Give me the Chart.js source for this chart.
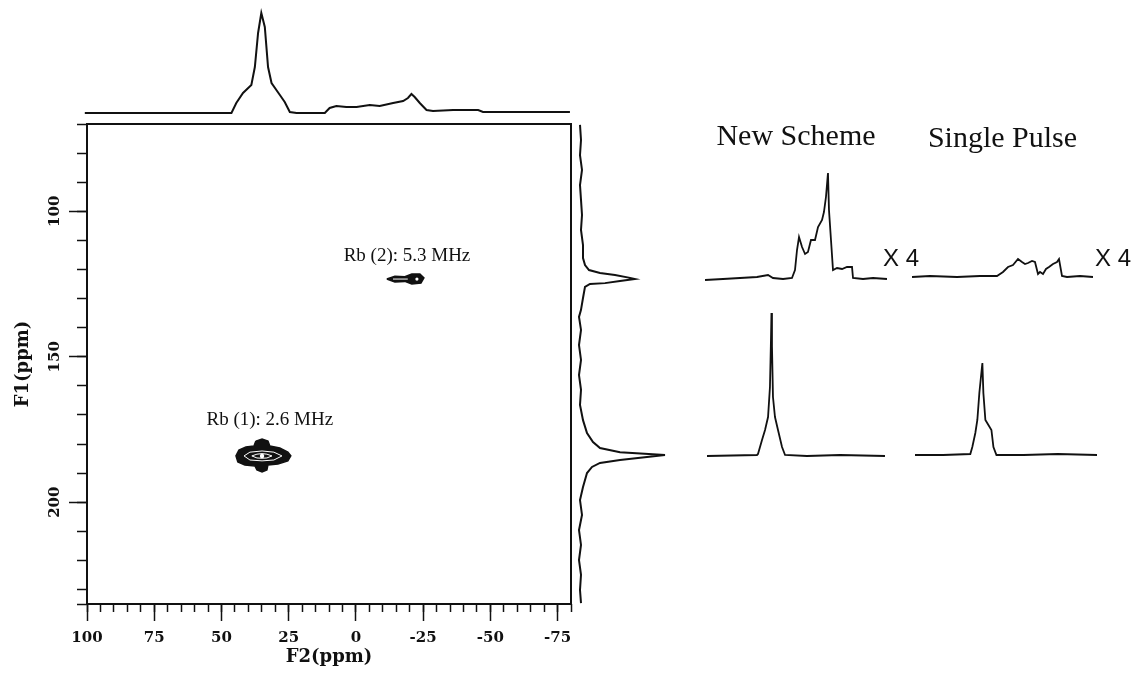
<!DOCTYPE html>
<html>
<head>
<meta charset="utf-8">
<script src="https://cdn.jsdelivr.net/npm/chart.js@4.4.1/dist/chart.umd.min.js"></script>
<style>
  html, body { margin: 0; padding: 0; background: #fff; }
  body { width: 1136px; height: 675px; position: relative; overflow: hidden; }
  canvas { position: absolute; }
</style>
</head>
<body>
<canvas id="mainPlot"  width="600" height="675" style="left:0;top:0"></canvas>
<canvas id="projTop"   width="487" height="120" style="left:84px;top:0"></canvas>
<canvas id="projRight" width="100" height="480" style="left:575px;top:124px"></canvas>
<canvas id="nsUpper"   width="227" height="166" style="left:705px;top:119px"></canvas>
<canvas id="spUpper"   width="224" height="162" style="left:912px;top:121px"></canvas>
<canvas id="nsLower"   width="182" height="156" style="left:705px;top:306px"></canvas>
<canvas id="spLower"   width="182" height="156" style="left:915px;top:305px"></canvas>
<script>
// --- data (ppm / arbitrary intensity) ---

// F2 projection on top
const topPpm = [100.7, 46.2, 44.4, 41.9, 38.8, 37.5, 36.3, 35.1, 33.8, 32.6, 31.3, 28.2, 26.4, 24.5, 22.0,
  11.5, 9.7, 7.2, 3.5, -0.3, -5.2, -8.9, -13.9, -17.6, -19.4, -20.7, -21.9, -23.8, -26.3, -28.7, -36.2, -45.5, -47.3, -79.6];
const topInt = [0, 0, 10, 20, 28, 46, 80, 100, 86, 46, 30, 18, 11, 1, 0,
  0, 5, 7, 6, 6, 8, 7, 10, 12, 15, 19, 16, 10, 3, 2, 3, 3, 1, 1];

// F1 projection on the right
const rightPpm = [70.3, 75.5, 80.7, 85.8, 91.0, 96.1, 101.3, 106.4, 111.6, 116.1,
  118.5, 120.2, 121.2, 121.9, 122.9, 123.3, 124.0, 124.7, 125.0, 126.0,
  129.8, 133.9, 136.3, 140.8, 146.0, 151.1, 156.3, 161.4, 166.6, 171.8,
  176.2, 179.3, 181.4, 182.8, 183.8, 185.5, 186.5, 187.9, 190.0, 194.8,
  199.3, 204.4, 209.6, 214.7, 219.9, 225.0, 230.2, 234.7];
const rightInt = [1, 2, 1, 3, 1, 2, 3, 2, 4, 4,
  6, 10, 21, 36, 51, 56, 41, 26, 11, 6,
  4, 2, 0, 2, 0, 2, 0, 2, 1, 4,
  8, 14, 21, 41, 86, 41, 21, 13, 8, 4,
  1, 3, 0, 2, 0, 2, 1, 2];

// contours (F2, F1)
const rb1OuterF2 = [37.2, 34.9, 32.7, 32.0, 28.3, 25.3, 24.2, 25.3, 29.0, 32.7, 33.1, 34.9, 36.8, 37.5, 41.3, 43.9, 44.6, 43.5, 40.9, 37.9, 37.2];
const rb1OuterF1 = [179.0, 178.3, 179.0, 180.7, 181.4, 182.8, 184.1, 185.8, 186.9, 187.2, 188.9, 189.6, 188.9, 187.6, 187.2, 186.2, 184.1, 182.1, 181.0, 180.7, 179.0];
const rb1RingF2  = [41.6, 39.4, 34.9, 30.5, 27.5, 30.5, 34.9, 39.4, 41.6];
const rb1RingF1  = [184.1, 182.8, 182.4, 182.8, 184.1, 185.5, 185.8, 185.5, 184.1];
const rb1InnerF2 = [38.7, 36.8, 34.9, 33.1, 31.2, 33.1, 34.9, 36.8, 38.7];
const rb1InnerF1 = [184.1, 183.5, 183.3, 183.5, 184.1, 184.8, 184.9, 184.8, 184.1];
const rb1CoreF2  = [34.9];
const rb1CoreF1  = [184.1];
const rb2OuterF2 = [-11.5, -14.5, -18.2, -20.8, -23.8, -25.3, -24.2, -20.8, -18.2, -14.5, -11.5];
const rb2OuterF1 = [123.3, 122.3, 122.5, 121.6, 121.6, 122.9, 124.7, 125.0, 124.1, 124.3, 123.3];
const rb2InnerF2 = [-13.8, -19.3];
const rb2InnerF1 = [123.3, 123.3];
const rb2CoreF2  = [-22.7];
const rb2CoreF1  = [123.3];

// slices on the right
const nsUpperPpm = [101, 83.1, 66.2, 49.3, 38.3, 33.4, 23.4, 14.5, 11.5, 9.5, 7.5, 4.5, 1.5, -1.4, -4.4, -8.4,
  -11.4, -15.4, -17.3, -19.3, -21.3, -22.3, -24.3, -26.3, -30.3, -35.3, -40.2, -45.2, -46.2, -56.1, -66.1, -80];
const nsUpperInt = [-1, 0, 1, 2, 4, 1, 0, 1, 9, 29, 42, 32, 25, 27, 39, 39,
  52, 59, 67, 82, 106, 69, 39, 9, 11, 10, 12, 12, 1, 0, 1, 0];
const spUpperPpm = [101, 83, 56, 33, 16, 10, 5, 0, -5, -9, -12, -15, -19, -22, -25, -27, -30, -33, -36, -40, -44, -46, -49, -54, -67, -80];
const spUpperInt = [0, 1, 0, 1, 1, 5, 10, 12, 18, 15, 13, 14, 16, 15, 3, 5, 3, 8, 10, 13, 15, 18, 1, 0, 1, 0];
const nsLowerPpm = [99, 49.3, 48.3, 44.3, 41.3, 38.3, 36.4, 35.4, 34.9, 34.4, 33.4, 31.4, 28.4, 24.4, 21.4, -0.4, -33.3, -78];
const nsLowerInt = [0, 1, 2, 16, 26, 39, 69, 116, 143, 110, 59, 39, 26, 9, 1, 0, 1, 0];
const spLowerPpm = [101, 73, 46, 44, 41, 39, 37, 34, 33, 31, 28, 25, 23, 20, -7, -41, -80];
const spLowerInt = [0, 0, 1, 8, 22, 35, 62, 92, 62, 35, 30, 25, 8, 0, 0, 1, 0];

// --- style ---
const ink = '#111';
const tickFont = { family: "'DejaVu Serif', serif", size: 15, weight: 'bold' };
const titleFont = { family: "'DejaVu Serif', serif", size: 18, weight: 'bold' };
Chart.defaults.font.family = "'Liberation Serif', serif";
Chart.defaults.color = ink;

const pts = (xs, ys) => xs.map((x, i) => ({ x, y: ys[i] }));

// draw free text at data coordinates
const textMarks = {
  id: 'textMarks',
  afterDatasetsDraw(chart, args, opts) {
    const { ctx, scales } = chart;
    (opts.items || []).forEach(it => {
      ctx.save();
      ctx.font = it.font;
      ctx.fillStyle = ink;
      ctx.textAlign = it.align || 'center';
      ctx.textBaseline = 'middle';
      ctx.fillText(it.text, scales.x.getPixelForValue(it.x), scales.y.getPixelForValue(it.y));
      ctx.restore();
    });
  }
};

const baseOpts = () => ({
  responsive: false, animation: false, devicePixelRatio: 1,
  plugins: { legend: { display: false }, tooltip: { enabled: false } }
});

function traceLine(data, width) {
  return { data, showLine: true, borderColor: ink, borderWidth: width || 1.8, pointRadius: 0, clip: false, tension: 0 };
}

// --- main 2D plot ---
const mainOpts = baseOpts();
mainOpts.layout = { padding: { top: 124, right: 29, bottom: 3, left: 0 } };
mainOpts.plugins.textMarks = {
  items: [
    { text: 'Rb (1): 2.6 MHz', x: 32, y: 171.8, font: "19px 'Liberation Serif'" },
    { text: 'Rb (2): 5.3 MHz', x: -19, y: 115.4, font: "19px 'Liberation Serif'" }
  ]
};
mainOpts.scales = {
  x: {
    type: 'linear', position: 'bottom', weight: 1, min: -80, max: 100, reverse: true,
    ticks: { stepSize: 25, includeBounds: false, autoSkip: false, maxRotation: 0, padding: 8, font: tickFont, color: ink },
    grid: { drawOnChartArea: false, tickLength: 17, tickWidth: 1.5, tickColor: ink },
    border: { display: true, width: 2, color: ink },
    title: { display: true, text: 'F2(ppm)', font: titleFont, color: ink, padding: { top: 0, bottom: 4 } },
    afterFit: s => { s.height = 68; }
  },
  xMinor: {
    type: 'linear', position: 'bottom', weight: 0, min: -80, max: 100, reverse: true,
    ticks: { stepSize: 5, display: false },
    grid: { drawOnChartArea: false, tickLength: 8, tickWidth: 1.5, tickColor: ink },
    border: { display: false },
    afterFit: s => { s.height = 0; }
  },
  xTop: {
    type: 'linear', position: 'top', min: -80, max: 100,
    ticks: { display: false }, grid: { display: false },
    border: { display: true, width: 2, color: ink },
    afterFit: s => { s.height = 0; }
  },
  y: {
    type: 'linear', position: 'left', weight: 1, min: 70, max: 235, reverse: true,
    ticks: { stepSize: 50, includeBounds: false, autoSkip: false, minRotation: 90, maxRotation: 90,
             crossAlign: 'center', padding: -2, font: tickFont, color: ink },
    grid: { drawOnChartArea: false, tickLength: 18, tickWidth: 1.5, tickColor: ink },
    border: { display: true, width: 2, color: ink },
    title: { display: true, text: 'F1(ppm)', font: titleFont, color: ink, padding: { top: 13, bottom: 0 } },
    afterFit: s => { s.width = 87; }
  },
  yMinor: {
    type: 'linear', position: 'left', weight: 0, min: 70, max: 235, reverse: true,
    ticks: { stepSize: 10, display: false },
    grid: { drawOnChartArea: false, tickLength: 10, tickWidth: 1.5, tickColor: ink },
    border: { display: false },
    afterFit: s => { s.width = 0; }
  },
  yRight: {
    type: 'linear', position: 'right', min: 70, max: 235,
    ticks: { display: false }, grid: { display: false },
    border: { display: true, width: 2, color: ink },
    afterFit: s => { s.width = 0; }
  }
};

// order: lower values are painted on top, so the white contour rings sit over the black fill
new Chart(document.getElementById('mainPlot'), {
  type: 'scatter',
  data: {
    datasets: [
      { data: pts(rb1OuterF2, rb1OuterF1), order: 2, showLine: true, fill: 'shape', backgroundColor: ink, borderColor: ink, borderWidth: 1.5, pointRadius: 0 },
      { data: pts(rb1RingF2, rb1RingF1), order: 1, showLine: true, borderColor: '#fff', borderWidth: 1, pointRadius: 0 },
      { data: pts(rb1InnerF2, rb1InnerF1), order: 1, showLine: true, borderColor: '#fff', borderWidth: 1, pointRadius: 0 },
      { data: pts(rb1CoreF2, rb1CoreF1), order: 0, pointRadius: 2.2, backgroundColor: '#fff', borderWidth: 0 },
      { data: pts(rb2OuterF2, rb2OuterF1), order: 2, showLine: true, fill: 'shape', backgroundColor: ink, borderColor: ink, borderWidth: 1.5, pointRadius: 0 },
      { data: pts(rb2InnerF2, rb2InnerF1), order: 1, showLine: true, borderColor: '#fff', borderWidth: 1, pointRadius: 0 },
      { data: pts(rb2CoreF2, rb2CoreF1), order: 0, pointRadius: 1.6, backgroundColor: '#fff', borderWidth: 0 }
    ]
  },
  options: mainOpts,
  plugins: [textMarks]
});

// --- projections ---
const topOpts = baseOpts();
topOpts.scales = {
  x: { type: 'linear', display: false, min: -80, max: 101, reverse: true },
  y: { type: 'linear', display: false, min: -7, max: 113 }
};
new Chart(document.getElementById('projTop'), {
  type: 'scatter',
  data: { datasets: [traceLine(pts(topPpm, topInt), 2)] },
  options: topOpts
});

const rightOpts = baseOpts();
rightOpts.scales = {
  x: { type: 'linear', display: false, min: -4, max: 96 },
  y: { type: 'linear', display: false, min: 70, max: 235, reverse: true }
};
new Chart(document.getElementById('projRight'), {
  type: 'scatter',
  data: { datasets: [traceLine(pts(rightInt, rightPpm), 2)] },
  options: rightOpts
});

// --- 1D slices: New Scheme vs Single Pulse ---
function sliceChart(id, ppm, inten, yMax, title, titlePad, padRight, marks) {
  const o = baseOpts();
  o.layout = { padding: { right: padRight || 0 } };
  if (title) {
    o.plugins.title = { display: true, text: title, color: ink,
      font: { family: "'Liberation Serif', serif", size: 30, weight: 'normal' },
      padding: { top: 0, bottom: titlePad } };
  }
  o.plugins.textMarks = { items: marks || [] };
  o.scales = {
    x: { type: 'linear', display: false, min: -80, max: 101, reverse: true },
    y: { type: 'linear', display: false, min: -6, max: yMax }
  };
  new Chart(document.getElementById(id), {
    type: 'scatter',
    data: { datasets: [traceLine(pts(ppm, inten), 1.8)] },
    options: o,
    plugins: [textMarks]
  });
}

const x4Font = "24px 'Liberation Sans'";
sliceChart('nsUpper', nsUpperPpm, nsUpperInt, 119, 'New Scheme', 5, 45,
  [{ text: 'X 4', x: -76, y: 20, align: 'left', font: x4Font }]);
sliceChart('spUpper', spUpperPpm, spUpperInt, 119, 'Single Pulse', 1, 43,
  [{ text: 'X 4', x: -82, y: 18, align: 'left', font: x4Font }]);
sliceChart('nsLower', nsLowerPpm, nsLowerInt, 150);
sliceChart('spLower', spLowerPpm, spLowerInt, 150);
</script>
</body>
</html>
